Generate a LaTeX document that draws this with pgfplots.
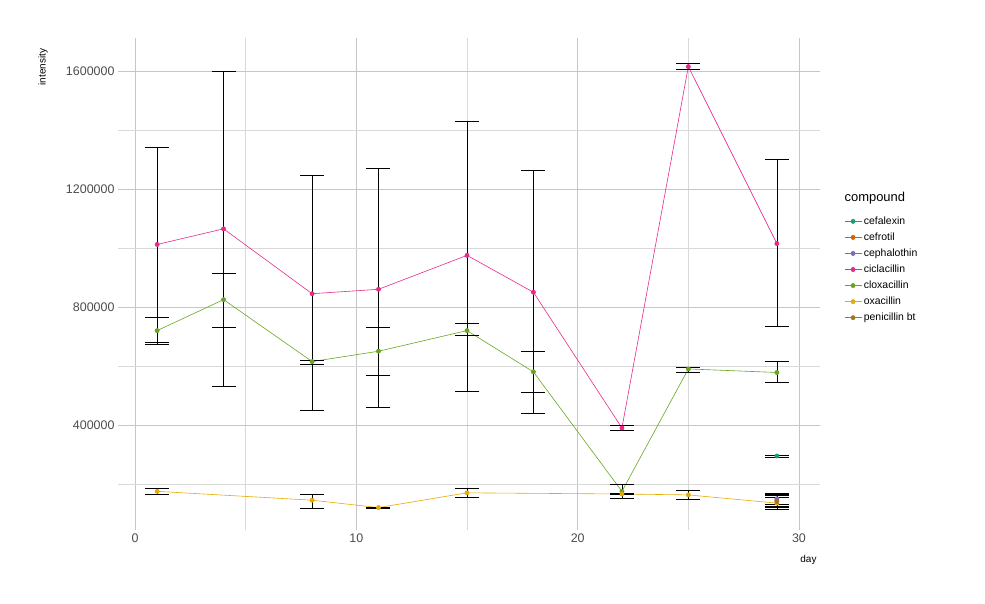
\documentclass[border=0pt]{standalone}
\usepackage{pgfplots}
\pgfplotsset{compat=1.18}
\usepackage{fontspec}
\setmainfont{Liberation Sans}
\definecolor{c1}{HTML}{1B9E77}
\definecolor{c2}{HTML}{D95F02}
\definecolor{c3}{HTML}{7570B3}
\definecolor{c4}{HTML}{E7298A}
\definecolor{c5}{HTML}{66A61E}
\definecolor{c6}{HTML}{E6AB02}
\definecolor{c7}{HTML}{A6761D}
\begin{document}
\begin{tikzpicture}[x=1bp,y=1bp]
\path (0,0) rectangle (985,604);
\begin{axis}[
  at={(118bp,74bp)}, anchor=south west, clip=false,
  scale only axis, width=702bp, height=492bp,
  xmin=-0.77, xmax=30.95, ymin=44000, ymax=1712000,
  xtick={0,10,20,30}, minor xtick={5,15,25},
  ytick={400000,800000,1200000,1600000}, minor ytick={200000,600000,1000000,1400000},
  grid=both,
  major grid style={gray!45, line width=0.6pt},
  minor grid style={gray!30, line width=0.5pt},
  axis line style={draw=none}, major tick length=0pt, minor tick length=0pt,
  scaled y ticks=false,
  /pgf/number format/assume math mode=true,
  yticklabel style={/pgf/number format/fixed,/pgf/number format/1000 sep={}},
  ticklabel style={font=\fontsize{12.5}{14}\selectfont, text=gray!60!black},
  legend style={at={(1.03,0.645)}, anchor=north west, draw=none, font=\fontsize{10.5}{12}\selectfont, row sep=3pt},
  legend cell align=left,
  every axis plot/.append style={line width=0.6pt, mark=*, mark size=2.1pt,
    error bars/y dir=both, error bars/y explicit,
    error bars/error bar style={black, line width=0.6pt},
    error bars/error mark options={black, rotate=90, mark size=12bp, line width=0.6pt}},
]
\addplot[c1] table[x=d,y=v,y error plus=p,y error minus=m]{
d v p m
29 295000 3000 3000
};
\addlegendentry{cefalexin}
\addplot[c2] table[x=d,y=v,y error plus=p,y error minus=m]{
d v p m
29 145000 10000 20000
};
\addlegendentry{cefrotil}
\addplot[c3] table[x=d,y=v,y error plus=p,y error minus=m]{
d v p m
29 150000 20000 20000
};
\addlegendentry{cephalothin}
\addplot[c4] table[x=d,y=v,y error plus=p,y error minus=m]{
d v p m
1 1012000 328000 332000
4 1065000 535000 535000
8 845000 400000 395000
11 860000 410000 400000
15 975000 455000 460000
18 850000 415000 410000
22 390000 10000 7000
25 1615000 10000 10000
29 1015000 285000 280000
};
\addlegendentry{ciclacillin}
\addplot[c5] table[x=d,y=v,y error plus=p,y error minus=m]{
d v p m
1 720000 45000 45000
4 825000 90000 95000
8 615000 5000 10000
11 650000 80000 80000
15 720000 25000 15000
18 580000 70000 70000
22 175000 25000 25000
25 590000 5000 10000
29 578000 37000 33000
};
\addlegendentry{cloxacillin}
\addplot[c6] table[x=d,y=v,y error plus=p,y error minus=m]{
d v p m
1 175000 10000 10000
8 145000 20000 27000
11 120000 2000 2000
15 170000 15000 15000
22 166000 2000 2000
25 163000 15000 15000
29 135000 30000 20000
};
\addlegendentry{oxacillin}
\addplot[c7] table[x=d,y=v,y error plus=p,y error minus=m]{
d v p m
29 140000 20000 20000
};
\addlegendentry{penicillin bt}
\node[anchor=south west, font=\fontsize{13}{15}\selectfont] at (rel axis cs:1.03,0.655) {compound};
\node[anchor=north east, font=\fontsize{10}{12}\selectfont] at (rel axis cs:1,-0.045) {day};
\node[anchor=south east, rotate=90, font=\fontsize{10}{12}\selectfont] at (rel axis cs:-0.095,0.985) {intensity};
\end{axis}
\end{tikzpicture}
\end{document}
